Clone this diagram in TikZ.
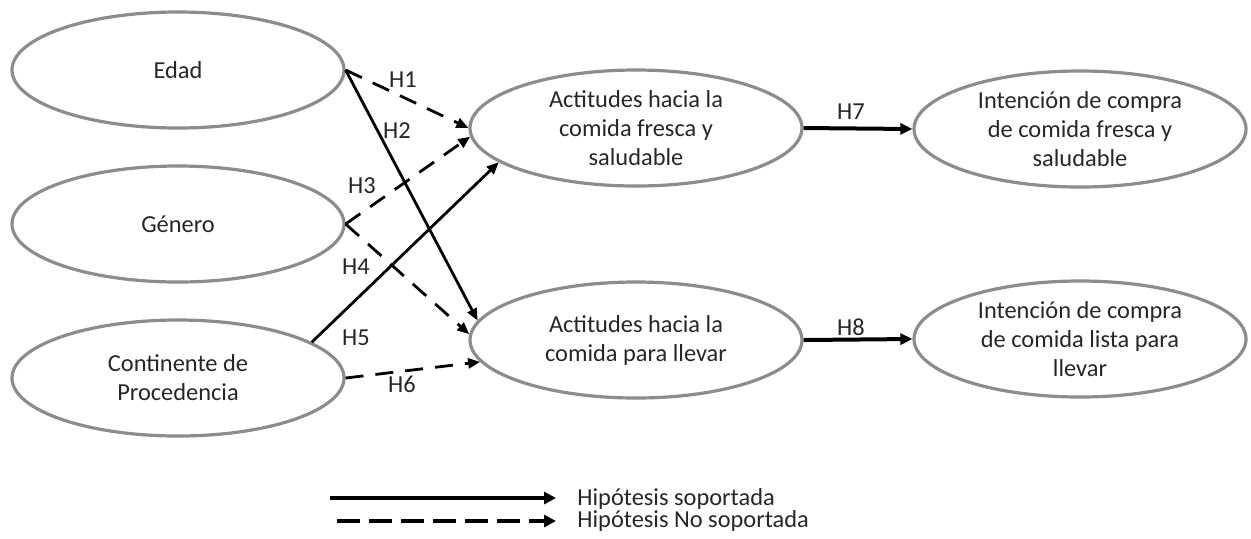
\documentclass[tikz,border=0pt]{standalone}
\usepackage{fontspec}
\setmainfont{Carlito}
\usetikzlibrary{shapes.geometric,arrows.meta}
\begin{document}
\begin{tikzpicture}[x=0.5pt,y=-0.5pt,
  every node/.style={font=\fontsize{12.2}{14.5}\selectfont, text=black!85},
  var/.style={ellipse, draw=black!45, line width=1.6pt, minimum width=166pt, minimum height=58pt, inner xsep=0pt, inner ysep=-6pt, align=center},
  suparrow/.style={line width=1.4pt, -{Triangle[length=6pt,width=5pt]}},
  nsuparrow/.style={suparrow, dash pattern=on 9pt off 6pt},
  lab/.style={inner sep=0pt},
  legsolid/.style={line width=2.4pt, -{Triangle[length=6pt,width=6pt]}},
  legdash/.style={legsolid, dash pattern=on 11.5pt off 4.5pt}]
\useasboundingbox (0,0) rectangle (1251,538);

\node[var] (edad)   at (178,70)  {Edad};
\node[var] (genero) at (178,224) {Género};
\node[var] (cont)   at (178,378) {Continente de\\Procedencia};
\node[var] (fresca) at (636,128) {Actitudes hacia la\\comida fresca y\\saludable};
\node[var] (llevar) at (636,340) {Actitudes hacia la\\comida para llevar};
\node[var] (intf)   at (1080,129) {Intención de compra\\de comida fresca y\\saludable};
\node[var] (intl)   at (1080,339) {Intención de compra\\de comida lista para\\llevar};

\draw[nsuparrow] (edad.east) -- (fresca.west);
\draw[suparrow]  (edad.east) -- (llevar.173);
\draw[nsuparrow] (genero.east) -- (fresca.183);
\draw[nsuparrow] (genero.east) -- (llevar.178);
\draw[suparrow]  (cont.15) -- (fresca.194);
\draw[nsuparrow] (cont.east) -- (llevar.188);
\draw[line width=2pt, -{Triangle[length=6pt,width=5.5pt]}] (fresca.east) -- (intf.west);
\draw[line width=2pt, -{Triangle[length=6pt,width=5.5pt]}] (llevar.east) -- (intl.west);

\node[lab] (h1) at (403,80)  {H1};
\node[lab] (h2) at (397,131) {H2};
\node[lab] (h3) at (362,186) {H3};
\node[lab] (h4) at (356,267) {H4};
\node[lab] (h5) at (356,338) {H5};
\node[lab] (h6) at (402,384) {H6};
\node[lab] (h7) at (851,112) {H7};
\node[lab] (h8) at (851,327) {H8};

\coordinate (ls1) at (330,498);
\coordinate (ls2) at (556,498);
\coordinate (ld1) at (337,521);
\coordinate (ld2) at (556,521);
\draw[legsolid] (ls1) -- (ls2);
\draw[legdash] (ld1) -- (ld2);
\node[lab, anchor=base west] (t1) at (577,505) {Hipótesis soportada};
\node[lab, anchor=base west] (t2) at (577,527) {Hipótesis No soportada};
\end{tikzpicture}
\end{document}
